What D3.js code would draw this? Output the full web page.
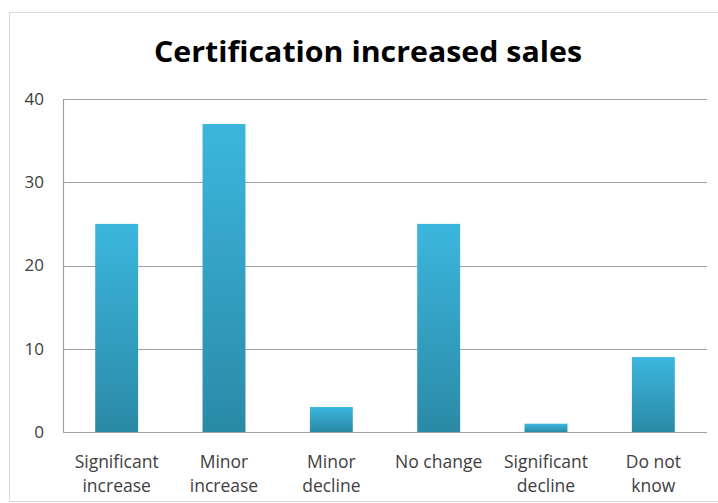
<!DOCTYPE html>
<html><head><meta charset="utf-8">
<script src="https://cdn.jsdelivr.net/npm/d3@7"></script>
<style>body{margin:0;background:#fff}svg{display:block}</style>
</head><body>
<svg id="c" width="718" height="503"></svg>
<script>
const categories = [["Significant","increase"],["Minor","increase"],["Minor","decline"],["No change",""],["Significant","decline"],["Do not","know"]];
const values = [25, 37, 3, 25, 1, 9];
const yTicks = [0, 10, 20, 30, 40];
const title = "Certification increased sales";

const svg = d3.select("#c");
const W = 718, H = 503;
const m = {left: 63, right: 11, top: 99, bottom: 71};
const iw = W - m.left - m.right, ih = H - m.top - m.bottom;

svg.append("rect").attr("x", 9.5).attr("y", 12.5).attr("width", W).attr("height", H - 14)
  .attr("fill", "#fff").attr("stroke", "#d9d9d9");

const defs = svg.append("defs");
const g0 = defs.append("linearGradient").attr("id", "bg").attr("x1", 0).attr("y1", 0).attr("x2", 0).attr("y2", 1);
g0.append("stop").attr("offset", "0%").attr("stop-color", "#3cb6de");
g0.append("stop").attr("offset", "100%").attr("stop-color", "#2a8aa6");

const x = d3.scaleBand().domain(d3.range(categories.length)).range([m.left, m.left + iw]).paddingInner(0.6).paddingOuter(0.3);
const y = d3.scaleLinear().domain([0, 40]).range([m.top + ih, m.top]);

svg.append("text").attr("x", 368).attr("y", 62)
  .attr("text-anchor", "middle").attr("font-family", "Open Sans, sans-serif")
  .attr("font-weight", "bold").attr("font-size", 29).attr("fill", "#000")
  .attr("textLength", 428).attr("lengthAdjust", "spacingAndGlyphs").text(title);

// gridlines
svg.append("g").selectAll("line").data(yTicks).join("line")
  .attr("x1", m.left).attr("x2", m.left + iw)
  .attr("y1", d => Math.round(y(d)) + 0.5).attr("y2", d => Math.round(y(d)) + 0.5)
  .attr("stroke", "#a0a0a0").attr("stroke-width", 1.2);
svg.append("line").attr("x1", m.left + 0.5).attr("x2", m.left + 0.5)
  .attr("y1", y(40)).attr("y2", y(0)).attr("stroke", "#a0a0a0").attr("stroke-width", 1.2);

const yAxis = d3.axisLeft(y).tickValues(yTicks).tickSize(0).tickPadding(19);
const ya = svg.append("g").attr("transform", `translate(${m.left},0)`).call(yAxis);
ya.select(".domain").remove();
ya.selectAll("text").attr("font-family", "Open Sans, sans-serif").attr("font-size", 17).attr("fill", "#404040");

svg.append("g").selectAll("rect").data(values).join("rect")
  .attr("x", (d, i) => x(i)).attr("width", x.bandwidth())
  .attr("y", d => y(d)).attr("height", d => y(0) - y(d))
  .attr("fill", "url(#bg)");

const xl = svg.append("g").selectAll("text").data(categories).join("text")
  .attr("text-anchor", "middle").attr("font-family", "Open Sans, sans-serif")
  .attr("font-size", 17.5).attr("fill", "#404040");
xl.each(function(d, i) {
  const t = d3.select(this);
  const cx = x(i) + x.bandwidth() / 2;
  t.append("tspan").attr("x", cx).attr("y", 468).text(d[0]);
  if (d[1]) t.append("tspan").attr("x", cx).attr("y", 492).text(d[1]);
});
</script>
</body></html>
